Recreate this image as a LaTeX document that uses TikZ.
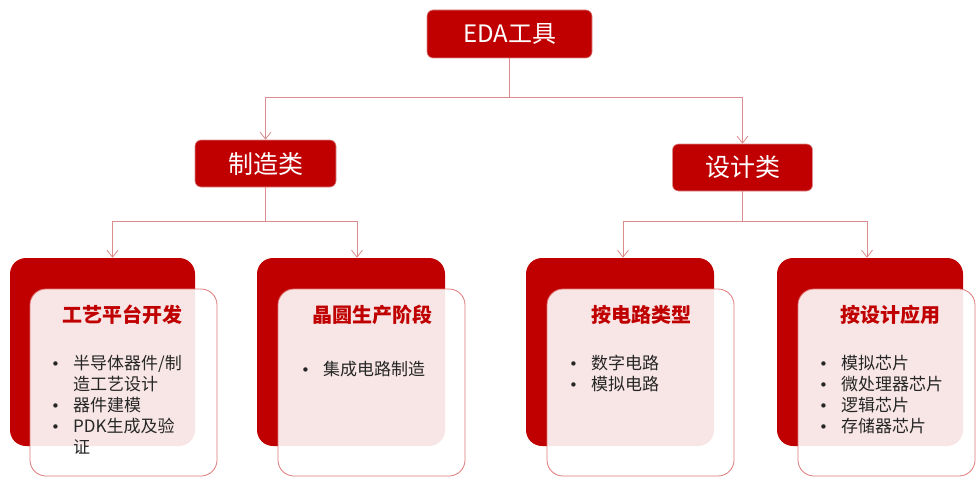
\documentclass[tikz,border=0pt]{standalone}
\usepackage{fontspec}
\setmainfont{Noto Sans CJK SC}
\newfontfamily\symf{DejaVu Sans}
\usetikzlibrary{arrows.meta}
\definecolor{dred}{HTML}{C00000}
\definecolor{lred}{HTML}{DC8C8C}
\definecolor{fborder}{HTML}{E07878}
\definecolor{txt}{HTML}{262626}
\newcommand{\bul}{\makebox[22pt][l]{\symf\fontsize{15}{21}\selectfont •}}
\newcommand{\nob}{\hspace*{22pt}}
\begin{document}
\begin{tikzpicture}[x=1pt,y=-1pt,
  topbox/.style={fill=dred, draw=lred, line width=0.6pt, rounded corners=6pt, text=white, inner sep=0pt},
  darkbox/.style={fill=dred, draw=none, rounded corners=16pt, inner sep=0pt, minimum height=188pt},
  frontbox/.style={fill=white, fill opacity=0.9, draw=fborder, draw opacity=1, line width=0.8pt, rounded corners=16pt, inner sep=0pt, minimum height=187pt},
  ttl/.style={text=dred, font=\bfseries\fontsize{20}{24}\selectfont},
  lst/.style={anchor=north west, inner sep=0pt, text=txt, align=left, font=\fontsize{17}{21}\selectfont},
  conn/.style={draw=lred, line width=0.8pt, -{Straight Barb[length=7pt,width=11pt]}}
]
\useasboundingbox (0,0) rectangle (976,476);
\clip (0,0) rectangle (976,476);
\fill[white] (0,0) rectangle (976,476);

% top level
\node[topbox, minimum width=165pt, minimum height=48pt, font=\fontsize{24}{28}\selectfont] (eda) at (509.5,34) {EDA工具};
\node[topbox, minimum width=141pt, minimum height=47pt, font=\fontsize{25}{30}\selectfont] (mfg) at (265.5,163.5) {制造类};
\node[topbox, minimum width=140pt, minimum height=47pt, font=\fontsize{25}{30}\selectfont] (des) at (742.5,167.5) {设计类};

% groups: back boxes
\node[darkbox, minimum width=185pt] (g1) at (102.5,352) {};
\node[darkbox, minimum width=188pt] (g2) at (351,352) {};
\node[darkbox, minimum width=188pt] (g3) at (620,352) {};
\node[darkbox, minimum width=186pt] (g4) at (870,352) {};

% front boxes
\node[frontbox, minimum width=187pt] (f1) at (123.5,382.5) {};
\node[frontbox, minimum width=187pt] (f2) at (371.5,382.5) {};
\node[frontbox, minimum width=187pt] (f3) at (640.5,382.5) {};
\node[frontbox, minimum width=177pt] (f4) at (886.5,382.5) {};

% titles
\node[ttl] (t1) at (122,315) {工艺平台开发};
\node[ttl] (t2) at (372,315) {晶圆生产阶段};
\node[ttl] (t3) at (641,315) {按电路类型};
\node[ttl] (t4) at (890,315) {按设计应用};

% lists
\node[lst] (l1) at (51,354.5) {\bul 半导体器件/制\\ \nob 造工艺设计\\ \bul 器件建模\\ \bul PDK生成及验\\ \nob 证};
\node[lst] (l2) at (301,360.5) {\bul 集成电路制造};
\node[lst] (l3) at (569,354.5) {\bul 数字电路\\ \bul 模拟电路};
\node[lst] (l4) at (819,354.5) {\bul 模拟芯片\\ \bul 微处理器芯片\\ \bul 逻辑芯片\\ \bul 存储器芯片};

% connectors
\draw[conn] (eda.south) -- ++(0,39) -| (mfg.north);
\draw[conn] (eda.south) -- ++(0,39) -| (des.north);
\draw[conn] (mfg.south) -- ++(0,34) -| ([xshift=10pt]g1.north);
\draw[conn] (mfg.south) -- ++(0,34) -| ([xshift=6pt]g2.north);
\draw[conn] (des.south) -- ++(0,30) -| ([xshift=3pt]g3.north);
\draw[conn] (des.south) -- ++(0,30) -| ([xshift=-3pt]g4.north);
\end{tikzpicture}
\end{document}
